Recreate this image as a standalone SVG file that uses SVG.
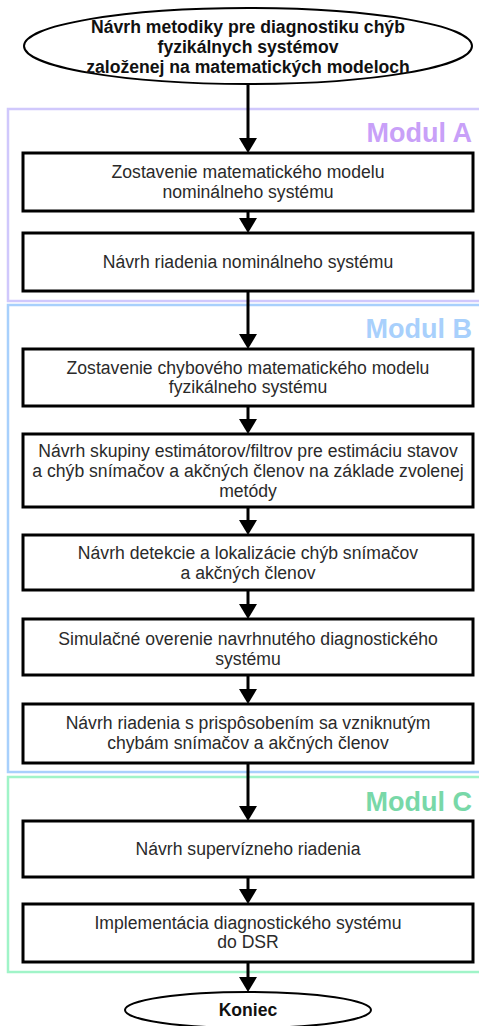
<svg xmlns="http://www.w3.org/2000/svg" width="479" height="1026" viewBox="0 0 479 1026">
<style>
.box{fill:#fff;stroke:#000;stroke-width:3}
.term{fill:#fff;stroke:#000;stroke-width:2}
.t{font-family:"Liberation Sans",Arial,sans-serif;font-size:17.6px;fill:#2a2a2a;text-anchor:middle}
.tb{font-family:"Liberation Sans",Arial,sans-serif;font-size:17.6px;font-weight:bold;fill:#111;text-anchor:middle}
.mod{font-family:"Liberation Sans",Arial,sans-serif;font-size:27px;font-weight:bold;text-anchor:end}
.frame{fill:none;stroke-width:2.5}
.ln{stroke:#000;stroke-width:3;fill:none}
.hd{fill:#000}
</style>
<rect width="479" height="1026" fill="#fff"/>
<g id="modulA">
<rect class="frame" x="8" y="109" width="480" height="192" stroke="#d0c8fc"/>
<text class="mod" x="472" y="142" fill="#c8a0f8">Modul A</text>
</g>
<g id="modulB">
<rect class="frame" x="8" y="305" width="480" height="467" stroke="#a8d0fc"/>
<text class="mod" x="472" y="338" fill="#a8d0fc">Modul B</text>
</g>
<g id="modulC">
<rect class="frame" x="8" y="777" width="480" height="195" stroke="#a0f4c8"/>
<text class="mod" x="472" y="811" fill="#78d8a8">Modul C</text>
</g>
<g id="connectors">
<line class="ln" x1="248" y1="84" x2="248" y2="139"/><polygon class="hd" points="239,138 257,138 248,153"/>
<line class="ln" x1="248" y1="211" x2="248" y2="219"/><polygon class="hd" points="239,218 257,218 248,233"/>
<line class="ln" x1="248" y1="291" x2="248" y2="335"/><polygon class="hd" points="239,334 257,334 248,349"/>
<line class="ln" x1="248" y1="406" x2="248" y2="420"/><polygon class="hd" points="239,419 257,419 248,434"/>
<line class="ln" x1="248" y1="507" x2="248" y2="521"/><polygon class="hd" points="239,520 257,520 248,535"/>
<line class="ln" x1="248" y1="590" x2="248" y2="605"/><polygon class="hd" points="239,604 257,604 248,619"/>
<line class="ln" x1="248" y1="675" x2="248" y2="690"/><polygon class="hd" points="239,689 257,689 248,704"/>
<line class="ln" x1="248" y1="763" x2="248" y2="807"/><polygon class="hd" points="239,806 257,806 248,821"/>
<line class="ln" x1="248" y1="877" x2="248" y2="890"/><polygon class="hd" points="239,889 257,889 248,904"/>
<line class="ln" x1="248" y1="962" x2="248" y2="978"/><polygon class="hd" points="239,977 257,977 248,992"/>
</g>
<g id="start">
<ellipse class="term" cx="248" cy="46" rx="224" ry="38"/>
<text class="tb" x="248" y="33">Návrh metodiky pre diagnostiku chýb</text>
<text class="tb" x="248" y="53">fyzikálnych systémov</text>
<text class="tb" x="248" y="73">založenej na matematických modeloch</text>
</g>
<g id="n1">
<rect class="box" x="23" y="153" width="450" height="58"/>
<text class="t" x="248" y="178">Zostavenie matematického modelu</text>
<text class="t" x="248" y="198">nominálneho systému</text>
</g>
<g id="n2">
<rect class="box" x="23" y="233" width="450" height="58"/>
<text class="t" x="248" y="268">Návrh riadenia nominálneho systému</text>
</g>
<g id="n3">
<rect class="box" x="23" y="349" width="450" height="57"/>
<text class="t" x="248" y="374">Zostavenie chybového matematického modelu</text>
<text class="t" x="248" y="393">fyzikálneho systému</text>
</g>
<g id="n4">
<rect class="box" x="23" y="434" width="450" height="73"/>
<text class="t" x="248" y="457">Návrh skupiny estimátorov/filtrov pre estimáciu stavov</text>
<text class="t" x="248" y="477">a chýb snímačov a akčných členov na základe zvolenej</text>
<text class="t" x="248" y="497">metódy</text>
</g>
<g id="n5">
<rect class="box" x="23" y="535" width="450" height="55"/>
<text class="t" x="248" y="559">Návrh detekcie a lokalizácie chýb snímačov</text>
<text class="t" x="248" y="579">a akčných členov</text>
</g>
<g id="n6">
<rect class="box" x="23" y="619" width="450" height="56"/>
<text class="t" x="248" y="645">Simulačné overenie navrhnutého diagnostického</text>
<text class="t" x="248" y="665">systému</text>
</g>
<g id="n7">
<rect class="box" x="23" y="704" width="450" height="59"/>
<text class="t" x="248" y="729">Návrh riadenia s prispôsobením sa vzniknutým</text>
<text class="t" x="248" y="749">chybám snímačov a akčných členov</text>
</g>
<g id="n8">
<rect class="box" x="23" y="821" width="450" height="56"/>
<text class="t" x="248" y="855">Návrh supervízneho riadenia</text>
</g>
<g id="n9">
<rect class="box" x="23" y="904" width="450" height="58"/>
<text class="t" x="248" y="929">Implementácia diagnostického systému</text>
<text class="t" x="248" y="948">do DSR</text>
</g>
<g id="end">
<ellipse class="term" cx="248" cy="1010" rx="123" ry="18"/>
<text class="tb" x="248" y="1016">Koniec</text>
</g>
</svg>
